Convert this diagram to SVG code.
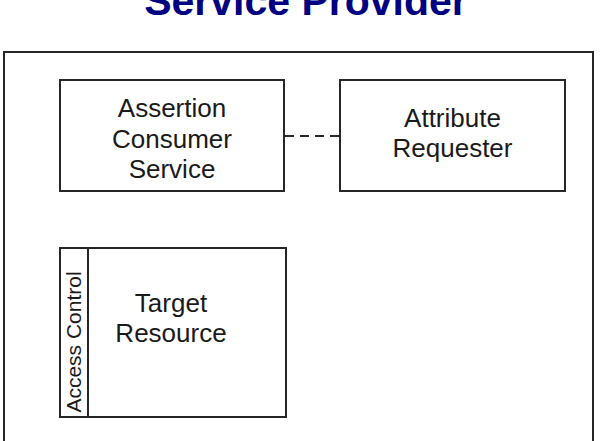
<svg xmlns="http://www.w3.org/2000/svg" width="604" height="441" viewBox="0 0 604 441">
<style>
.box{fill:#fff;stroke:#262626;stroke-width:2}
.lbl{font-family:"Liberation Sans",Arial,sans-serif;font-size:26px;fill:#1a1a1a;text-anchor:middle}
.title{font-family:"Liberation Sans",Arial,sans-serif;font-size:41px;font-weight:bold;fill:#000080;text-anchor:middle}
.conn{stroke:#262626;stroke-width:2;fill:none;stroke-dasharray:9 6}
</style>
<rect width="604" height="441" fill="#fff"/>
<text class="title" x="306" y="15">Service Provider</text>
<g id="sp">
<rect class="box" x="4" y="52" width="589" height="400"/>
</g>
<g id="connectors">
<line class="conn" x1="285" y1="136" x2="340" y2="136"/>
</g>
<g id="acs">
<rect class="box" x="60" y="80" width="224" height="111"/>
<text class="lbl" x="172" y="117">Assertion</text>
<text class="lbl" x="172" y="147.5">Consumer</text>
<text class="lbl" x="172" y="178">Service</text>
</g>
<g id="ar">
<rect class="box" x="340" y="80" width="225" height="111"/>
<text class="lbl" x="452.5" y="127">Attribute</text>
<text class="lbl" x="452.5" y="157">Requester</text>
</g>
<g id="tr">
<rect class="box" x="60" y="248" width="226" height="169"/>
<line x1="88" y1="248" x2="88" y2="417" stroke="#262626" stroke-width="2"/>
<text class="lbl" x="171" y="312">Target</text>
<text class="lbl" x="171" y="342">Resource</text>
<text class="lbl" style="font-size:21px" transform="translate(81 342) rotate(-90)" x="0" y="0">Access Control</text>
</g>
</svg>
